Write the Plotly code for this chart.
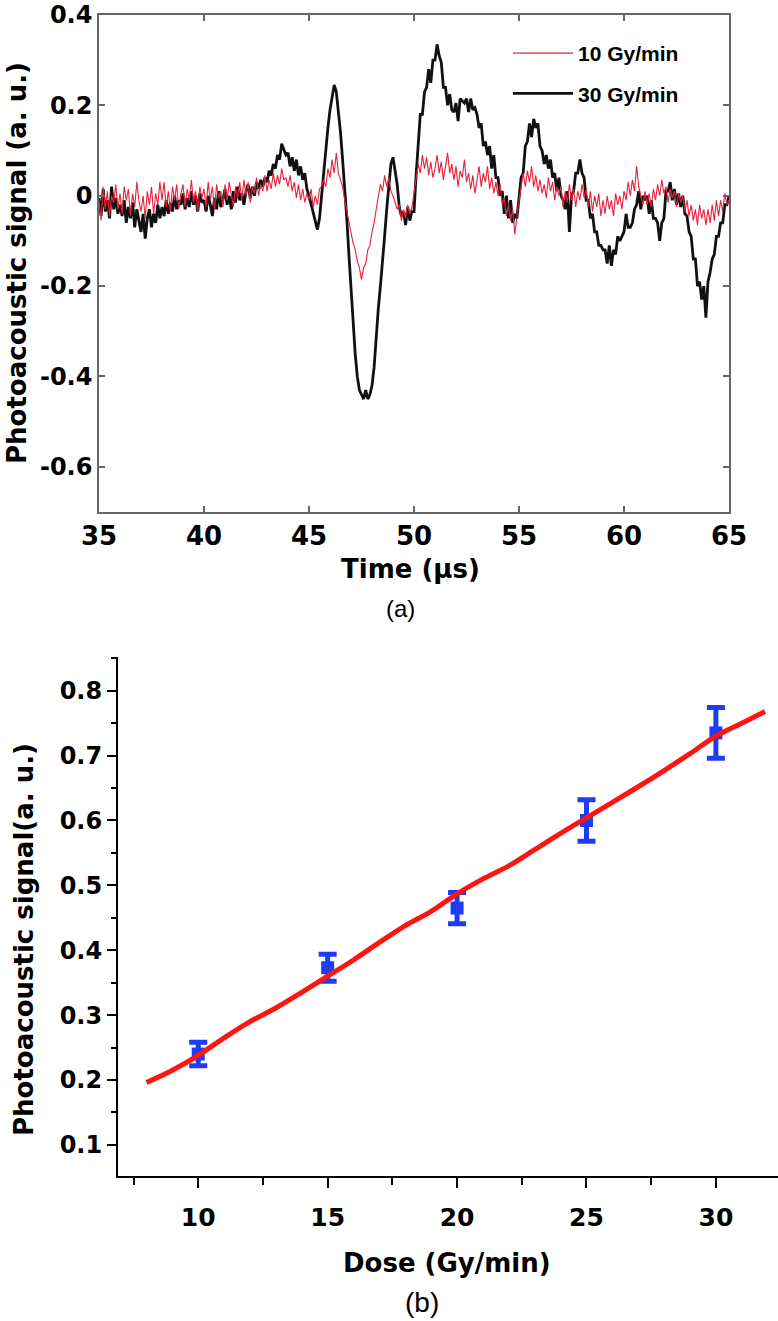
import plotly.graph_objects as go

# ---------------- Panel (a): photoacoustic time traces ----------------
time_start_us = 35.0
time_step_us = 0.1

signal_10gy = [
    -0.01, -0.055, 0.02, -0.03, 0.01, -0.045, 0.0, -0.015, 0.025, -0.03,
    0.005, -0.04, 0.02, -0.01, 0.015, -0.045, 0.005, -0.025, 0.03, -0.01,
    -0.035, 0.0, -0.05, 0.01, -0.02, 0.02, -0.04, 0.005, -0.02, 0.03,
    -0.01, 0.03, -0.025, 0.01, -0.035, 0.02, -0.01, 0.025, -0.03, 0.005,
    0.025, -0.025, 0.015, -0.01, 0.035, -0.015, 0.01, -0.035, 0.02, -0.005,
    0.015, -0.025, 0.03, -0.01, 0.02, -0.03, 0.025, -0.005, 0.01, -0.025,
    0.025, -0.01, 0.03, 0.0, -0.025, 0.02, -0.005, 0.03, -0.01, 0.035,
    0.0, 0.03, -0.015, 0.02, 0.005, 0.04, 0.0, 0.025, 0.01, 0.045,
    0.01, 0.035, 0.015, 0.05, 0.02, 0.045, 0.025, 0.06, 0.035, 0.04,
    0.02, 0.045, 0.01, 0.03, -0.005, 0.025, -0.01, 0.015, -0.015, 0.005,
    -0.01, 0.015, -0.025, 0.0, -0.02, 0.015, 0.02, 0.035, 0.02, 0.06,
    0.04, 0.08, 0.05, 0.095, 0.05, 0.035, 0.02, -0.01, -0.035, -0.06,
    -0.08, -0.105, -0.12, -0.145, -0.16, -0.185, -0.16, -0.15, -0.12, -0.11,
    -0.08, -0.06, -0.03, 0.0, 0.025, 0.01, 0.045, 0.02, 0.04, 0.01,
    0.0, -0.015, -0.03, -0.02, -0.055, -0.03, -0.05, -0.02, -0.04, -0.025,
    0.01, 0.045, 0.07, 0.05, 0.09, 0.06, 0.085, 0.045, 0.075, 0.04,
    0.06, 0.09, 0.05, 0.075, 0.035, 0.065, 0.095, 0.05, 0.07, 0.035,
    0.065, 0.02, 0.055, 0.04, 0.08, 0.03, 0.05, 0.015, 0.045, 0.005,
    0.035, 0.065, 0.02, 0.05, 0.03, 0.065, 0.015, 0.04, 0.005, 0.03,
    0.0, 0.025, -0.02, -0.005, -0.045, -0.02, -0.055, -0.03, -0.085, -0.04,
    -0.01, 0.02, 0.05, 0.02, 0.055, 0.03, 0.065, 0.02, 0.045, 0.01,
    0.035, 0.005, 0.025, -0.005, 0.04, 0.01, 0.03, -0.01, 0.02, 0.0,
    0.02, -0.025, 0.01, -0.015, 0.025, -0.01, 0.015, -0.025, 0.01, -0.01,
    0.025, -0.005, 0.015, -0.025, 0.01, -0.035, 0.0, -0.025, 0.005, -0.045,
    -0.01, -0.04, 0.0, -0.03, -0.01, -0.045, 0.005, -0.02, 0.0, -0.03,
    0.01, -0.01, 0.03, 0.0, 0.035, 0.01, 0.065, 0.02, 0.0, -0.02,
    0.01, -0.02, 0.005, -0.025, 0.015, -0.01, 0.025, 0.0, 0.035, 0.005,
    0.02, -0.015, 0.015, -0.005, 0.01, -0.025, 0.005, -0.015, 0.0, -0.035,
    -0.01, -0.045, -0.02, -0.055, -0.03, -0.065, -0.02, -0.05, -0.03, -0.065,
    -0.03, -0.06, -0.02, -0.055, -0.01, -0.045, -0.01, -0.035, 0.005, -0.02,
    -0.01,
]

signal_30gy = [
    -0.005, -0.045, 0.015, -0.035, -0.01, -0.05, 0.02, -0.03, -0.005, -0.04,
    -0.02, -0.045, -0.01, -0.06, -0.025, -0.05, -0.015, -0.07, -0.03, -0.055,
    -0.08, -0.04, -0.095, -0.05, -0.03, -0.07, -0.04, -0.06, -0.02, -0.05,
    -0.025, -0.045, -0.01, -0.04, -0.015, -0.035, 0.0, -0.03, -0.01, -0.02,
    0.005, -0.03, -0.005, -0.025, 0.01, -0.02, 0.0, -0.035, 0.005, -0.015,
    -0.01, -0.035, 0.0, -0.02, -0.045, -0.005, -0.03, 0.01, -0.025, -0.01,
    0.015, -0.02, 0.0, -0.03, 0.01, -0.015, 0.02, -0.01, 0.005, -0.02,
    0.01, 0.025, -0.005, 0.02, 0.0, 0.03, 0.015, 0.035, 0.02, 0.04,
    0.03, 0.055, 0.045, 0.07, 0.06, 0.09, 0.08, 0.115, 0.1, 0.09,
    0.095, 0.065, 0.085, 0.055, 0.08, 0.045, 0.065, 0.035, 0.05, 0.015,
    0.0, -0.02, -0.04, -0.06, -0.075, -0.05, 0.0, 0.06, 0.11, 0.15,
    0.19, 0.22, 0.245, 0.23, 0.19, 0.14, 0.08, 0.02, -0.05, -0.13,
    -0.21, -0.29, -0.35, -0.4, -0.43, -0.44, -0.45, -0.43, -0.45, -0.44,
    -0.42, -0.38, -0.31, -0.25, -0.2, -0.15, -0.09, -0.03, 0.03, 0.07,
    0.085, 0.055, 0.025, -0.025, -0.045, -0.035, -0.065, -0.025, -0.055, -0.035,
    -0.035, 0.045, 0.11, 0.18, 0.18, 0.23, 0.24, 0.28, 0.25, 0.3,
    0.3, 0.335, 0.31, 0.295, 0.24, 0.24, 0.2, 0.225, 0.19, 0.185,
    0.205, 0.165, 0.215, 0.21, 0.205, 0.215, 0.185, 0.215, 0.19, 0.195,
    0.18, 0.15, 0.16, 0.11, 0.12, 0.09, 0.11, 0.06, 0.09, 0.04,
    0.04, 0.0, 0.01, -0.04, 0.0, -0.05, -0.01, -0.06, -0.04, -0.05,
    -0.01, 0.04, 0.05, 0.11, 0.12, 0.16, 0.13, 0.17, 0.15, 0.16,
    0.11, 0.1, 0.07, 0.09, 0.06, 0.08, 0.04, 0.05, 0.01, 0.04,
    0.0, -0.01, -0.03, 0.01, -0.08, 0.0, 0.01, 0.05, 0.05, 0.08,
    0.05, 0.04, -0.01, -0.01, -0.05, -0.04, -0.08, -0.08, -0.11, -0.11,
    -0.12, -0.12, -0.15, -0.11, -0.155, -0.12, -0.13, -0.09, -0.1, -0.09,
    -0.08, -0.04, -0.07, -0.07, -0.06, -0.03, -0.02, 0.01, -0.03, 0.0,
    -0.01, 0.0, -0.04, -0.01, -0.05, -0.05, -0.06, -0.1, -0.06, -0.05,
    0.01, 0.01, 0.03, -0.01, 0.015, -0.02, 0.005, -0.025, 0.0, -0.04,
    -0.045, -0.08, -0.09, -0.14, -0.14, -0.2, -0.19, -0.23, -0.2, -0.27,
    -0.19, -0.17, -0.14, -0.13, -0.09, -0.09, -0.06, -0.06, -0.02, -0.02,
    0.0,
]

time_us = [round(time_start_us + i * time_step_us, 2) for i in range(len(signal_30gy))]

time_ticks = [35, 40, 45, 50, 55, 60, 65]
signal_ticks_a = [-0.6, -0.4, -0.2, 0, 0.2, 0.4]
signal_ticktext_a = ["-0.6", "-0.4", "-0.2", "0", "0.2", "0.4"]

# ---------------- Panel (b): dose response ----------------
dose = [10, 15, 20, 25, 30]
signal_mean = [0.240, 0.373, 0.465, 0.600, 0.735]
signal_err = [0.018, 0.021, 0.024, 0.032, 0.039]

fit_dose = [8, 9, 10, 11, 12, 13, 14, 15, 16, 17, 18, 19, 20, 21, 22, 23, 24,
            25, 26, 27, 28, 29, 30, 31, 31.9]
fit_signal = [0.196, 0.215, 0.238, 0.265, 0.290, 0.311, 0.335, 0.360, 0.385,
              0.412, 0.438, 0.460, 0.487, 0.510, 0.530, 0.555, 0.580, 0.604,
              0.628, 0.652, 0.677, 0.703, 0.730, 0.750, 0.768]

W, H = 778, 1321
def px(x):
    return x / W
def py(y):
    return 1 - y / H

BOLD = "DejaVu Sans"

fig = go.Figure()

fig.add_trace(go.Scatter(x=time_us, y=signal_30gy, mode="lines", name="30 Gy/min",
                         line=dict(color="#111111", width=2.8), legendrank=2,
                         legendgroup="g30", xaxis="x", yaxis="y"))
fig.add_trace(go.Scatter(x=time_us, y=signal_10gy, mode="lines", name="10 Gy/min",
                         line=dict(color="#e8203c", width=1.1), legendrank=1,
                         legendgroup="g10", xaxis="x", yaxis="y"))

fig.add_trace(go.Scatter(x=dose, y=signal_mean, mode="markers", showlegend=False,
                         marker=dict(symbol="square", size=13, color="#1f3cf5"),
                         error_y=dict(type="data", array=signal_err, color="#1f3cf5",
                                      thickness=5, width=9),
                         xaxis="x2", yaxis="y2"))
fig.add_trace(go.Scatter(x=fit_dose, y=fit_signal, mode="lines", showlegend=False,
                         line=dict(color="#ff1414", width=5, shape="spline"),
                         xaxis="x2", yaxis="y2"))

axis_a = dict(showgrid=False, zeroline=False, showline=True, linecolor="#666666",
              linewidth=1.5, mirror="ticks", ticks="inside", ticklen=6,
              tickwidth=1.5, tickcolor="#666666", automargin=False)

fig.update_layout(
    width=W, height=H, margin=dict(l=0, r=0, t=0, b=0, autoexpand=False),
    paper_bgcolor="white", plot_bgcolor="white",
    font=dict(family=BOLD, color="black"),
    xaxis=dict(domain=[px(99), px(729)], range=[35, 65], tickvals=time_ticks,
               tickfont=dict(family=BOLD, size=26, weight="bold", color="black"),
               ticklabelstandoff=0, anchor="y", **axis_a),
    yaxis=dict(domain=[py(512), py(15)], range=[-0.7, 0.4], tickvals=signal_ticks_a,
               ticktext=signal_ticktext_a,
               tickfont=dict(family=BOLD, size=24, weight="bold", color="black"),
               anchor="x", **axis_a),
    xaxis2=dict(domain=[px(118), 1.0], range=[6.9, 32.4], tick0=0, dtick=5,
                showgrid=False, zeroline=False, showline=True, linecolor="black",
                linewidth=2, ticks="outside", ticklen=10, tickwidth=2,
                tickcolor="black", automargin=False,
                minor=dict(tick0=0, dtick=2.5, ticks="outside", ticklen=7,
                           tickwidth=2, tickcolor="black"),
                tickfont=dict(family=BOLD, size=25, weight="bold", color="black"),
                ticklabelstandoff=8, anchor="y2"),
    yaxis2=dict(domain=[py(1176), py(657)], range=[0.052, 0.852], tick0=0, dtick=0.1,
                tickformat=".1f", showgrid=False, zeroline=False, showline=True,
                linecolor="black", linewidth=2, ticks="outside", ticklen=9,
                tickwidth=2, tickcolor="black", automargin=False,
                minor=dict(tick0=0, dtick=0.05, ticks="outside", ticklen=5,
                           tickwidth=2, tickcolor="black"),
                tickfont=dict(family=BOLD, size=24, weight="bold", color="black"),
                anchor="x2"),
    legend=dict(x=px(508), y=py(33), xanchor="left", yanchor="top",
                bgcolor="rgba(0,0,0,0)",
                font=dict(family="Liberation Sans", size=21, weight="bold", color="black"),
                itemwidth=60, tracegroupgap=10),
    showlegend=True,
)

annotations = [
    dict(text="Photoacoustic signal (a. u.)", x=px(17), y=py(263), textangle=-90,
         font=dict(family=BOLD, size=26, weight="bold", color="black")),
    dict(text="Time (μs)", x=px(410), y=py(569),
         font=dict(family=BOLD, size=26, weight="bold", color="black")),
    dict(text="(a)", x=px(400), y=py(608),
         font=dict(family="Liberation Sans", size=24, color="black")),
    dict(text="Photoacoustic signal(a. u.)", x=px(24), y=py(940), textangle=-90,
         font=dict(family=BOLD, size=26, weight="bold", color="black")),
    dict(text="Dose (Gy/min)", x=px(447), y=py(1263),
         font=dict(family=BOLD, size=26, weight="bold", color="black")),
    dict(text="(b)", x=px(422), y=py(1302),
         font=dict(family="Liberation Sans", size=28, color="black")),
]
for a in annotations:
    a.update(xref="paper", yref="paper", showarrow=False, xanchor="center",
             yanchor="middle")
fig.update_layout(annotations=annotations)

fig.write_html("out.html", config={"displayModeBar": False},
               post_script="document.body.style.margin='0';document.body.style.padding='0';")
